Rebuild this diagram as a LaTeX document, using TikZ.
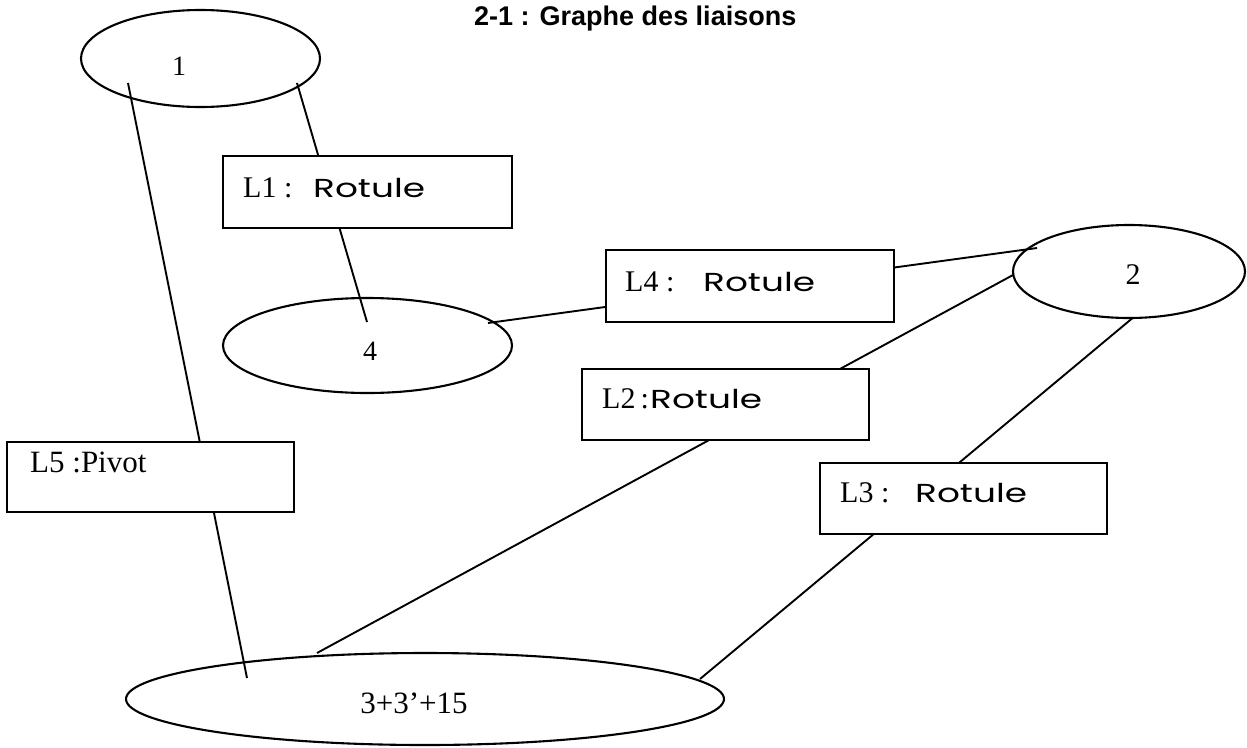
\documentclass[tikz,border=0pt]{standalone}
\usepackage{fontspec}
\usepackage{graphicx}
\setmainfont{Liberation Serif}
\newfontfamily\headfont{Liberation Sans}
\newfontfamily\handfont{Poppins}
\usetikzlibrary{shapes.geometric,calc}

% handwritten-looking word, stretched sideways
\newcommand{\hand}[1]{{\handfont\fontsize{26}{28}\selectfont\scalebox{1.38}[1]{#1}}}

\tikzset{
  part/.style={draw, ellipse, line width=2.1pt, inner sep=0pt},
  joint/.style={draw, rectangle, fill=white, line width=1.9pt, inner sep=0pt},
  link/.style={line width=1.9pt},
  jointtext/.style={anchor=base west, inner sep=0pt, font=\fontsize{30}{31}\selectfont},
  parttext/.style={inner sep=0pt, font=\fontsize{28}{29}\selectfont},
}

\begin{document}
\begin{tikzpicture}[x=1pt, y=-1pt]
\useasboundingbox (0,0) rectangle (1247,747);

% title
\node[anchor=base west, inner sep=0pt, font=\headfont\bfseries\fontsize{27}{28}\selectfont]
  (title) at (474,25) {2-1 : Graphe des liaisons};

% parts (classes d'equivalence)
\node[part, minimum width=239pt, minimum height=97pt] (e1) at (200.5,58.5) {};
\node[part, minimum width=289pt, minimum height=95pt] (e4) at (367.5,345.5) {};
\node[part, minimum width=232pt, minimum height=93pt] (e2) at (1129,271.5) {};
\node[part, minimum width=598pt, minimum height=92pt] (e3) at (425,699) {};

\node[parttext] (t1) at (179,66) {1};
\node[parttext] (t4) at (370,351) {4};
\node[parttext, font=\fontsize{30}{31}\selectfont] (t2) at (1133,275) {2};
\node[parttext, font=\fontsize{31}{32}\selectfont] (t3) at (414,703) {3+3'+15};

% connectors between parts (boxes are drawn on top of them)
\draw[link] ($(e1)+(-72.5,24.5)$) -- ($(e3)+(-178,-21)$);
\draw[link] ($(e1)+(96.5,24.5)$) -- ($(e4)+(-0.5,-23.5)$);
\draw[link] ($(e4)+(120.5,-22.5)$) -- ($(e2)+(-92,-23.5)$);
\draw[link] ($(e2)+(-116,3.5)$) -- ($(e3)+(-108,-46)$);
\draw[link] ($(e2)+(3,47)$) -- ($(e3)+(275,-20)$);

% joints
\node[joint, minimum width=289pt, minimum height=72pt] (L1) at (367.5,192) {};
\node[joint, minimum width=288pt, minimum height=72pt] (L4) at (750,286) {};
\node[joint, minimum width=287pt, minimum height=71pt] (L2) at (725.5,404.5) {};
\node[joint, minimum width=287pt, minimum height=71pt] (L3) at (963.5,498.5) {};
\node[joint, minimum width=287pt, minimum height=70pt] (L5) at (150.5,477) {};

\node[jointtext] (tL1) at (243,197) {\makebox[70pt][l]{L1 :}\hand{Rotule}};
\node[jointtext] (tL4) at (625,291) {\makebox[78pt][l]{L4 :}\hand{Rotule}};
\node[jointtext] (tL2) at (602,408) {\makebox[48pt][l]{L2\,:}\hand{Rotule}};
\node[jointtext] (tL3) at (840,502) {\makebox[75pt][l]{L3 :}\hand{Rotule}};
\node[jointtext, font=\fontsize{31}{32}\selectfont] (tL5) at (30,472) {L5 :Pivot};
\end{tikzpicture}
\end{document}
